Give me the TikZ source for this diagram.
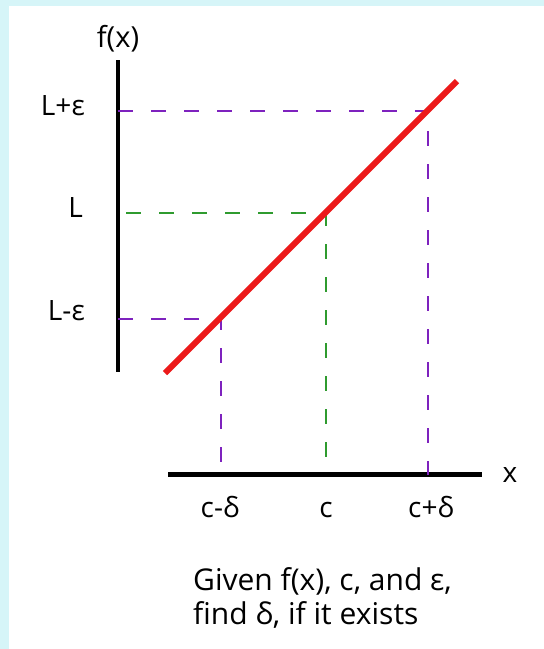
\documentclass[tikz,border=0pt]{standalone}
\usepackage{fontspec}
\setmainfont{Open Sans}
\usetikzlibrary{positioning}
\definecolor{paneblue}{HTML}{D6F5F8}
\definecolor{epspurple}{HTML}{7E22BE}
\definecolor{limgreen}{HTML}{2F9B2F}
\definecolor{fred}{HTML}{EC1A1A}

\begin{document}
\begin{tikzpicture}[x=1pt,y=-1pt,font=\fontsize{28}{34}\selectfont,
  axisline/.style={line width=4.6pt},
  guide/.style={line width=2.6pt,dash pattern=on 15pt off 18pt},
  lbl/.style={inner sep=0pt},
  note/.style={inner sep=0pt,anchor=base west,font=\fontsize{30}{36}\selectfont}]
  % backdrop
  \fill[paneblue] (0,0) rectangle (544,649);
  \fill[white] (9,6) rectangle (544,649);
  \useasboundingbox (0,0) rectangle (544,649);
  % axes
  \coordinate (ytop) at (118,60); \coordinate (ybot) at (118,372);
  \coordinate (xleft) at (168,474.5); \coordinate (xright) at (482,474.5);
  \draw[axisline] (ytop) -- (ybot);
  \draw[axisline] (xleft) -- (xright);
  \node[lbl,font=\fontsize{29}{34}\selectfont] (fx) at (118,39) {f(x)};
  \node[lbl] (xlab) at (510,475) {x};
  % points on the graph and their feet on the axes
  \foreach \n/\px/\py in {lo/221/319,mid/326/213,hi/428/111} {
    \coordinate (\n) at (\px,\py);
    \coordinate (\n-y) at (118,\py);
    \coordinate (\n-x) at (\px,474.5);}
  \draw[guide,epspurple] (hi-y) -- (hi) -- (hi-x);
  \draw[guide,epspurple] (lo-y) -- (lo) -- (lo-x);
  \draw[guide,limgreen,dash phase=25pt] (mid-y) -- (mid) -- (mid-x);
  % the function
  \coordinate (fstart) at (165,373); \coordinate (fend) at (457,81);
  \draw[fred,line width=6pt] (fstart) -- (fend);
  % labels
  \node[lbl,anchor=base east] (lhi) at (85,115) {L+ε};
  \node[lbl,anchor=base east] (lmid) at (83,217) {L};
  \node[lbl,anchor=base east] (llo) at (85,320) {L-ε};
  \node[lbl,anchor=base] (clo) at (220,517) {c-δ};
  \node[lbl,anchor=base] (cmid) at (326,517) {c};
  \node[lbl,anchor=base] (chi) at (431,517) {c+δ};
  \node[note] (given) at (193,590) {Given f(x), c, and ε,};
  \node[note] (find) at (193,624) {find δ, if it exists};
\end{tikzpicture}
\end{document}
